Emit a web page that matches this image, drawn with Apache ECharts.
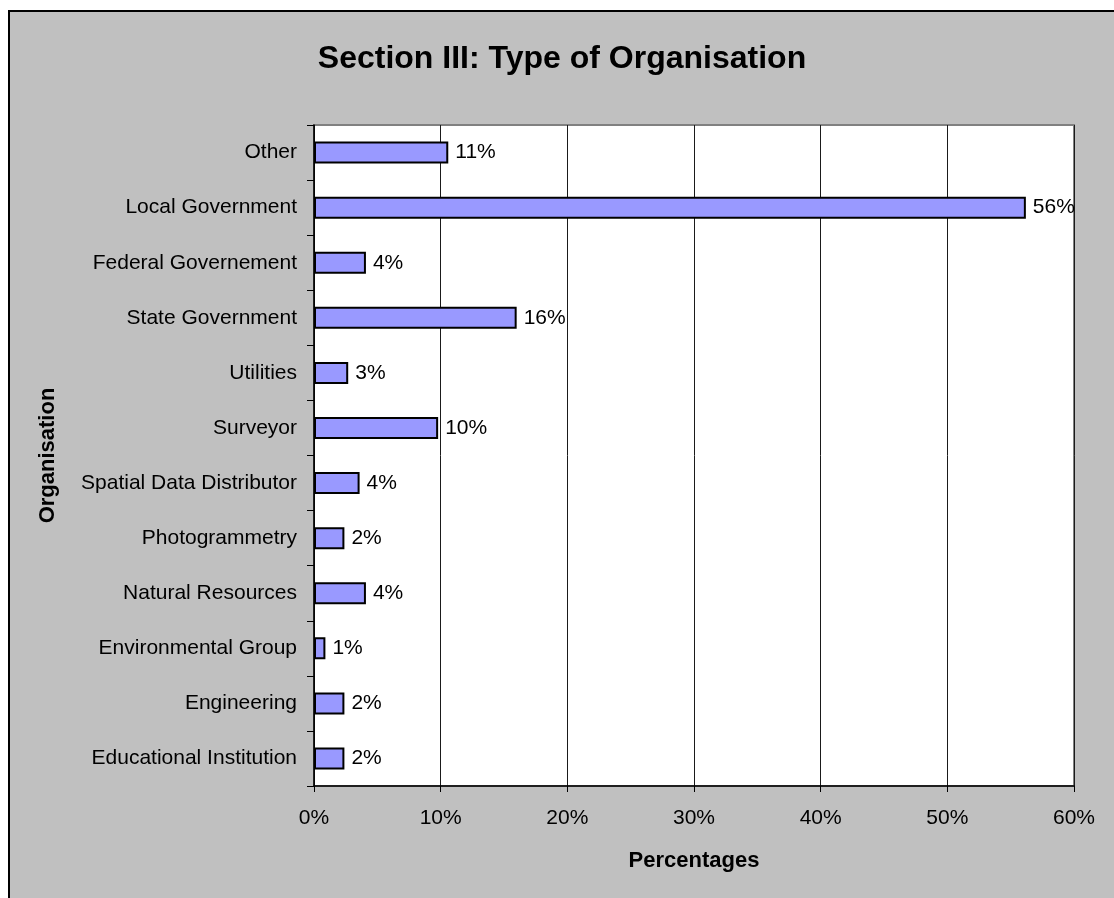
<!DOCTYPE html>
<html>
<head>
<meta charset="utf-8">
<script src="https://cdn.jsdelivr.net/npm/echarts@6/dist/echarts.min.js"></script>
<style>
  html, body { margin: 0; padding: 0; background: #ffffff; }
  #frame {
    position: absolute; left: 8px; top: 10px;
    width: 1106px; height: 888px;
    border-left: 2px solid #000; border-top: 2px solid #000;
    box-sizing: border-box;
  }
  #chart { width: 1104px; height: 886px; }
</style>
</head>
<body>
<div id="frame"><div id="chart"></div></div>
<script>
// Survey responses by organisation type (percent of respondents), top to bottom
const categories = [
  'Other', 'Local Government', 'Federal Governement', 'State Government',
  'Utilities', 'Surveyor', 'Spatial Data Distributor', 'Photogrammetry',
  'Natural Resources', 'Environmental Group', 'Engineering', 'Educational Institution'
];
const percentages = [10.6, 56.2, 4.1, 16.0, 2.7, 9.8, 3.6, 2.4, 4.1, 0.9, 2.4, 2.4];
const xTicks = { min: 0, max: 60, step: 10 };

const FONT = '"Liberation Sans", Arial, sans-serif';
const chart = echarts.init(document.getElementById('chart'), null, { renderer: 'canvas' });

chart.setOption({
  backgroundColor: '#c0c0c0',
  animation: false,
  title: {
    text: 'Section III: Type of Organisation',
    left: 'center',
    top: 26,
    textStyle: { fontFamily: FONT, fontSize: 32, fontWeight: 'bold', color: '#000' }
  },
  grid: {
    left: 304, top: 113, width: 760, height: 661,
    show: true, backgroundColor: '#ffffff',
    borderColor: '#808080', borderWidth: 2
  },
  xAxis: {
    type: 'value',
    min: xTicks.min, max: xTicks.max, interval: xTicks.step,
    name: 'Percentages',
    nameLocation: 'middle',
    nameGap: 64,
    nameTextStyle: { fontFamily: FONT, fontSize: 22, fontWeight: 'bold', color: '#000' },
    axisLine: { show: true, lineStyle: { color: '#000', width: 1.5 } },
    axisTick: { show: true, length: 6, lineStyle: { color: '#000', width: 1 } },
    axisLabel: {
      margin: 22,
      fontFamily: FONT, fontSize: 21, color: '#000',
      formatter: v => v + '%'
    },
    splitLine: { show: true, lineStyle: { color: '#1a1a1a', width: 1 } }
  },
  yAxis: {
    type: 'category',
    data: categories,
    inverse: true,
    name: 'Organisation',
    nameLocation: 'middle',
    nameGap: 255,
    nameRotate: 90,
    nameTextStyle: { fontFamily: FONT, fontSize: 22, fontWeight: 'bold', color: '#000' },
    axisLine: { show: true, lineStyle: { color: '#000', width: 1.5 } },
    axisTick: { show: true, length: 7, lineStyle: { color: '#000', width: 1 } },
    axisLabel: { margin: 17, fontFamily: FONT, fontSize: 21, color: '#000' },
    splitLine: { show: false }
  },
  series: [{
    type: 'bar',
    data: percentages,
    barWidth: 22,
    itemStyle: { color: '#9999ff', borderColor: '#000', borderWidth: 2 },
    label: {
      show: true,
      position: 'right',
      distance: 7,
      fontFamily: FONT, fontSize: 21, color: '#000',
      formatter: p => Math.round(p.value) + '%'
    }
  }]
});
</script>
</body>
</html>
